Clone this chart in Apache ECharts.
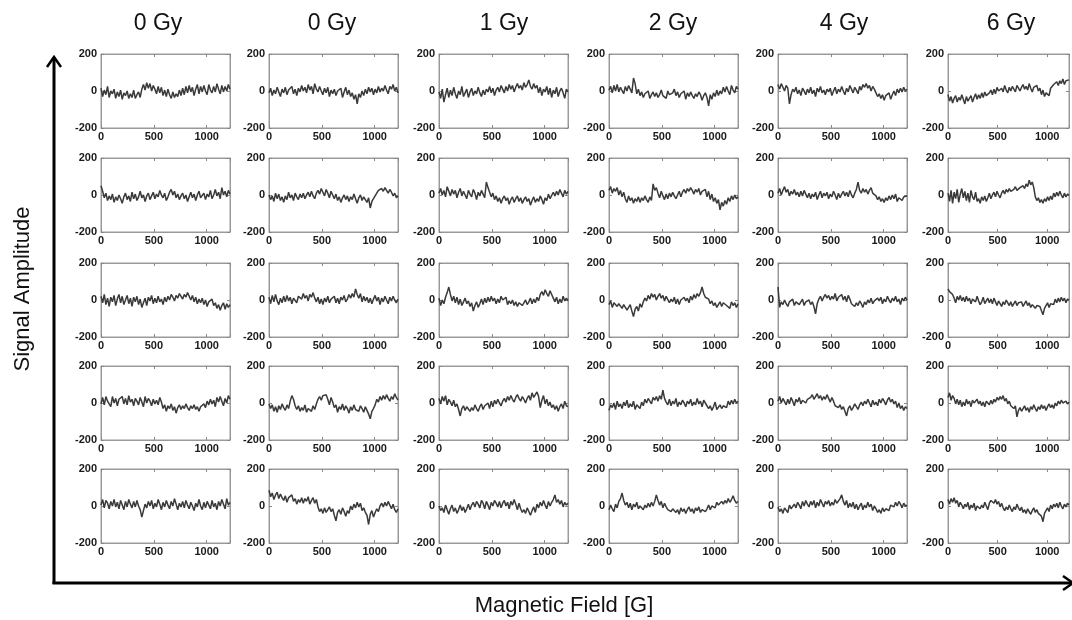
<!DOCTYPE html>
<html>
<head>
<meta charset="utf-8">
<script src="https://cdn.jsdelivr.net/npm/echarts@6/dist/echarts.min.js"></script>
<style>html,body{margin:0;padding:0;background:#fff}#chart{width:1072px;height:620px}</style>
</head>
<body>
<div id="chart"></div>
<script>
// Column titles (dose) and tick labels
const columnTitles = ['0 Gy', '0 Gy', '1 Gy', '2 Gy', '4 Gy', '6 Gy'];
const xTickLabels = [0, 500, 1000];
const yTickLabels = [-200, 0, 200];
const fieldMax = 1220;   // magnetic field range [G]
const ampMin = -200, ampMax = 200;
const yAxisTitle = 'Signal Amplitude';
const xAxisTitle = 'Magnetic Field [G]';

// Signal amplitudes (80 evenly spaced samples over 0..1220 G)
// Row 1
const r1c1 = [15,-30,5,-20,25,-35,0,-15,10,-40, -5,-30,5,-45,-10,-25,0,-40,-15,-35, 5,-40,-20,-5,-35,10,35,5,45,15, 40,0,30,10,-15,25,-10,20,-25,5, -30,10,-20,-40,-5,-35,-15,-30,5,-25, 15,-20,25,-10,30,-5,20,-25,10,35, -15,25,-5,30,0,-20,35,5,-10,25, -5,40,10,-15,30,-5,25,0,35,10];
const r1c2 = [-10,15,-25,5,-15,20,-5,-30,10,-10, 20,-20,5,-5,25,-15,10,-25,15,-5, 30,0,20,-10,35,5,25,-15,40,10, -5,25,0,-20,15,-10,20,-30,5,-15, 10,-25,0,-10,15,-35,-5,20,-20,5, -30,-10,-45,-20,-70,-15,-35,0,-25,10, -15,20,-5,15,-20,10,-10,25,-5,15, 0,30,5,-15,25,10,35,0,20,-10];
const r1c3 = [-5,-40,10,-60,-20,15,-35,5,-25,20, -15,-40,0,-20,25,-30,-10,10,-35,-5, 15,-25,0,-15,20,-10,-30,5,-20,10, -5,25,-10,15,-25,5,20,-5,30,10, -10,25,0,35,10,30,-5,20,40,15, 30,5,45,20,35,60,25,10,40,15, 30,-10,20,-25,10,-5,25,-20,15,-35, 5,-15,20,-30,0,15,-10,-40,10,-5];
const r1c4 = [5,25,-10,30,0,35,-5,20,10,-15, 25,0,30,10,-10,70,40,-15,10,-25, -5,-35,-15,-25,0,-40,-20,-5,-30,-10, -35,-20,5,-25,-15,-40,0,-20,-30,-10, 10,-25,-5,-35,-15,-20,0,-45,-10,-30, -5,-25,-40,-15,-30,-5,-20,-50,-25,-10, -35,-80,-20,-45,-10,-30,5,-25,0,-15, 20,-5,25,0,-20,30,5,-10,25,10];
const r1c5 = [35,10,40,20,0,30,15,-70,-20,10, -5,20,-15,5,-25,15,0,-20,10,-10, 20,-15,5,-30,15,-5,25,-10,5,-20, 10,-5,15,-25,0,20,-15,10,-5,25, 0,-20,15,-5,30,10,-10,20,5,-15, 25,5,35,20,40,15,30,0,25,10, -10,-30,-15,-40,-20,-50,-25,-35,-10,-45, -20,0,-25,10,-10,15,-5,20,0,10];
const r1c6 = [-20,-55,-30,-65,-40,-25,-60,-35,-50,-20, -45,-70,-30,-55,-40,-25,-60,-35,-15,-45, -20,-40,-10,-35,-5,-25,-30,-10,5,-20, 10,-15,20,0,-10,15,-5,30,5,-10, 20,0,25,10,-5,30,15,0,20,35, 10,25,5,40,15,-5,20,10,30,0, 15,-20,5,-30,-10,0,-25,15,20,35, 25,50,30,55,40,65,35,55,45,60];
// Row 2
const r2c1 = [50,20,-15,10,-30,-5,-25,5,-40,-10, -30,0,-20,-45,-10,10,-25,-5,-35,15, -20,5,-30,-10,20,-15,0,-35,-5,10, -25,-5,15,-20,5,-10,25,0,-15,10, -30,-10,15,30,0,20,-15,5,-25,-5, 10,-20,0,-35,-10,15,-15,5,-30,0, 20,-15,-5,10,-25,5,-10,25,-20,0, 30,-5,15,-20,40,0,20,-10,25,5];
const r2c2 = [0,-25,-5,-35,10,-20,5,-30,-10,-40, -5,-25,15,-15,0,-30,10,-10,-25,5, -15,10,-20,0,15,-10,20,-5,-20,10, 25,5,35,15,-5,30,10,-15,20,0, -20,5,-30,-10,-40,-15,0,-25,-5,-35, -10,-25,5,-20,-45,-15,0,-30,-10,-25, -40,-15,-70,-35,-20,-5,10,25,15,35, 20,40,25,10,30,15,-5,10,-15,-5];
const r2c3 = [10,35,0,25,-10,45,20,-5,30,5, 25,-15,15,35,-5,20,0,-20,25,5, -10,30,10,-25,15,-5,25,5,-15,70, 40,15,-10,10,-25,-5,-35,-15,-45,-20, -5,-30,-15,-50,-25,-10,-40,-20,-5,-35, -15,-45,-25,-10,-35,-20,-55,-30,-10,-40, -20,-35,-5,-25,-50,-15,-30,5,-20,-10, 15,-5,20,0,30,10,-10,25,5,20];
const r2c4 = [25,45,10,35,20,40,0,25,-10,15, -20,-40,-5,-30,-15,-45,-20,-35,-10,-40, -15,-30,-5,-25,-40,-10,-30,60,25,40, 10,-15,20,-5,-25,5,-20,10,-10,15, -5,-20,0,20,-10,15,30,10,35,20, 40,25,5,30,15,35,0,20,10,30, -10,20,-25,5,-35,-15,-45,-25,-80,-40, -60,-30,-50,-15,-35,-5,-25,0,-20,-10];
const r2c5 = [10,35,0,25,45,15,30,-5,20,5, 30,0,15,-10,20,-5,25,5,-15,10, -20,5,-10,15,-25,0,20,-15,10,-5, 15,-20,5,-10,20,0,-25,10,-15,5, 20,-5,15,-10,25,0,-15,10,30,70, 25,10,35,15,30,5,25,40,10,20, -5,-25,-10,-35,-20,-40,-15,-30,-5,-25, 0,-20,5,-35,-15,-5,-30,-10,-20,-5];
const r2c6 = [10,-35,25,-45,15,-20,30,-40,5,35, -15,20,-30,10,-40,25,-10,-25,15,-35, -20,-45,-10,-30,-5,-35,-15,10,-20,0, 15,-10,20,0,-15,10,25,5,30,15, 35,20,10,30,45,25,15,40,30,50, 35,60,45,80,55,70,40,-10,-30,-15, -40,-25,-45,-20,-35,-10,-30,-5,-25,10, -10,15,-5,20,0,-15,10,-10,5,0];
// Row 3
const r3c1 = [20,-15,30,-25,10,-35,15,-10,25,-30, 5,30,-15,20,-25,0,25,-20,10,-35, 15,-10,20,-25,5,-40,-15,10,-30,15, -5,25,-20,10,-15,20,-10,5,-25,15, -10,20,0,30,15,-5,25,10,35,20, 5,30,15,40,20,0,25,-10,15,-20, 5,-15,10,-25,0,-35,-10,-20,5,-30, -15,-45,-25,-55,-30,-15,-50,-20,-40,-25];
const r3c2 = [15,-20,25,-10,30,-5,-25,10,-15,20, -10,25,-5,15,-20,10,0,-15,20,30, 5,35,10,25,-5,30,15,40,10,-10, 15,-20,5,-25,10,-10,20,-15,5,-5, 20,-15,10,-20,15,0,25,-10,5,30, 10,35,15,60,30,10,35,-10,20,-5, 15,-15,10,-20,5,25,-5,15,-25,10, -10,20,0,-20,15,-5,20,0,-15,5];
const r3c3 = [10,-30,0,-20,15,40,70,30,-5,20, -15,15,-25,5,-30,-10,10,-20,-5,-35, -15,-60,-30,-10,-40,-20,5,-25,10,-15, 15,-10,20,-5,10,-20,5,-15,20,0, -10,15,-25,-5,-20,0,-30,-10,-35,-15, -5,-30,-15,0,-25,-10,10,-20,5,-15, 15,-5,30,45,25,55,35,20,50,30, 10,-10,15,-20,5,-15,20,-5,10,-5];
const r3c4 = [-25,-5,-40,-15,-5,-35,-20,-10,-45,-25, -15,-55,-40,-25,-60,-90,-50,-35,-60,-20, -40,-10,10,-5,25,5,35,15,30,0, 20,35,10,25,-5,20,10,-15,5,-10, 15,-20,5,-25,0,-10,15,-5,10,-15, 20,0,30,10,35,20,40,70,35,15, 25,5,-20,-5,-30,-15,-40,-25,-10,-35, -15,-5,-30,-20,-45,-10,-30,-15,-40,-20];
const r3c5 = [70,-40,-10,-25,0,-20,-35,-10,-15,5, -30,-10,-5,-25,-15,5,-30,-10,-20,0, -25,-10,-35,-75,-20,5,20,-5,15,30, 10,25,0,20,5,35,-5,15,10,30, 0,20,-10,25,5,-20,-10,-35,-15,-30, -5,-20,-40,-10,-25,0,-15,10,-20,-5, -15,10,-5,15,-20,5,-10,20,0,-15, 10,-5,20,-10,5,-25,10,-5,15,0];
const r3c6 = [60,45,55,30,10,-15,20,0,25,-5, 15,-10,20,-5,10,-20,5,15,-10,20, -5,-25,-10,15,-20,-5,10,-15,5,-20, 10,-10,-30,-5,-20,-35,-10,-25,0,-15, -30,-10,-35,-20,-5,-30,-15,-25,-10,-35, -20,-5,-30,-15,-40,-25,-15,-45,-30,-20, -35,-25,-80,-45,-30,-15,-40,-20,-10,-25, 5,-15,10,-10,15,-5,10,-15,5,0];
// Row 4
const r4c1 = [-5,30,-10,35,10,20,-20,35,0,25, -15,20,10,35,-5,25,-10,40,5,20, -15,25,10,-10,30,5,-20,35,0,25, 10,-15,20,-5,15,-10,30,5,-30,-10, -45,-15,-30,-5,-40,-20,-55,-25,-10,-35, -15,-30,-5,-25,-40,-15,-30,-10,-35,-20, -45,-20,-30,-5,-25,10,-10,20,-5,15, -20,30,5,35,10,-15,25,0,40,20];
const r4c2 = [-5,-30,-10,-45,-20,-50,-15,-35,-5,-25, -40,-10,-30,10,40,20,-15,-35,-15,-45, -25,-40,-10,-50,-30,-20,-45,-15,-35,-5, 20,35,15,40,30,45,20,-10,30,5, -25,-10,-50,-20,-35,-5,-40,-15,-30,-55, -20,-40,-10,-35,-25,-45,-15,-30,-50,-20, -40,-60,-85,-45,-30,-10,20,5,35,15, 40,20,45,25,10,35,20,50,30,15];
const r4c3 = [25,-5,35,10,40,-10,20,5,-15,15, -20,-5,-35,-70,-30,-15,-40,-20,-10,-45, -25,-40,-10,-30,-45,-20,-5,-35,-15,-25, 0,-30,10,-20,15,-5,20,0,-15,10, 25,5,35,15,40,20,5,30,45,25, 10,35,20,0,25,40,15,55,30,45, 60,35,-25,15,40,-5,20,-15,5,-25, -10,-35,-15,-45,-20,-5,-30,10,-15,-20];
const r4c4 = [-40,-10,-25,0,-35,10,-20,-5,-30,5, -15,15,-25,-5,-20,10,-35,-10,-5,-30, 5,-15,20,0,25,10,-5,30,15,35, 10,40,20,70,25,5,-10,20,-15,10, -5,25,-20,5,-10,15,0,-20,10,-5, 20,-15,5,-10,25,-5,10,-20,15,0, -10,-30,-15,-40,-20,5,-35,-25,-10,-30, -15,-5,-25,10,-10,15,-5,20,0,10];
const r4c5 = [10,35,0,25,15,-10,20,-5,30,10, -15,20,5,30,-5,15,25,0,20,10, 30,45,20,35,50,25,40,15,35,20, 45,25,5,30,10,-15,-5,-25,-10,-35, -20,-45,-70,-30,-15,-40,-25,-5,-20,-35, -10,5,-15,10,-5,20,0,-20,15,-10, 5,-15,20,0,25,10,-10,15,30,5, 20,-5,10,-25,0,-30,-15,-40,-20,-30];
const r4c6 = [30,55,15,40,25,-5,20,-10,15,-20, 5,-15,20,-5,10,-20,15,0,-10,20, -5,10,-15,5,-20,10,0,-10,15,-5, 20,5,30,15,35,20,40,10,25,-5, 10,-15,-5,-30,-15,-75,-40,-25,-45,-30, -15,-40,-25,-50,-20,-35,-10,-30,-45,-20, -35,-10,-30,-15,-40,-20,-5,-25,-10,-30, 0,-15,10,-5,15,0,-10,10,-5,5];
// Row 5
const r5c1 = [5,35,-10,30,15,-15,25,0,35,-5, 20,-15,30,5,-20,25,-5,35,10,-10, 25,-5,30,0,-20,-60,-25,10,-10,25, 0,30,-15,15,-5,35,10,-20,20,-5, 30,5,-15,25,0,40,10,-20,15,-5, 25,-10,30,5,-15,20,0,-25,15,-5, 35,0,-20,20,-10,25,5,-15,30,-5, 15,-20,25,0,35,10,-15,40,5,20];
const r5c2 = [85,50,70,35,60,75,40,65,45,30, 55,20,45,35,60,25,40,10,35,20, 45,15,40,25,50,10,30,45,15,35, -5,-30,-15,-40,-10,-35,-20,-5,-30,-15, -50,-80,-35,-20,-45,-10,-30,-55,-25,-40, 0,-20,10,-10,20,-5,15,-25,-10,-35, -50,-100,-45,-25,-60,-35,-15,-30,0,15, -5,20,0,25,5,-15,10,-20,-35,-15];
const r5c3 = [0,-25,-10,-35,5,-20,-45,-15,5,-30, -10,-40,-20,5,-25,-5,-35,-15,10,-20, 5,20,-5,25,10,-10,30,15,-15,25, 5,-20,20,0,30,15,-5,25,-10,15, 30,0,20,-15,25,5,35,10,-20,15, -15,-35,-20,-40,-10,-30,-50,-25,-5,-35, 10,-10,20,0,30,5,-15,25,0,20, 35,60,20,35,10,30,-5,20,5,15];
const r5c4 = [-20,5,-15,-30,10,-10,25,40,70,30, 5,20,-10,15,-20,10,-5,20,-15,0, 10,-20,5,-10,15,-5,20,0,25,60, 30,5,25,-10,15,-5,-20,-10,-30,-15, -5,-35,-20,-45,-10,-30,-15,-40,-20,-5, -30,-15,-40,-10,-25,-5,-35,-20,-10,-30, -15,5,-20,0,10,-10,20,5,-5,25, 10,30,15,40,20,35,55,30,15,25];
const r5c5 = [-5,-30,-15,-40,-10,-20,-35,5,-15,-25, 10,-10,20,5,-15,25,0,30,10,-5, 25,5,30,-10,20,0,35,15,-5,25, 10,30,0,20,5,35,15,25,40,60, 25,5,30,-10,15,-5,20,-15,10,-20, 0,15,-20,5,-10,20,-5,10,-25,0, -15,-35,-20,-40,-10,-30,-15,-5,-25,5, 15,-5,20,0,25,10,-10,15,0,5];
const r5c6 = [35,10,40,20,45,15,30,-5,20,5, -15,10,-5,20,-20,5,-10,15,-25,0, 10,-15,5,-10,20,0,-20,15,30,40, 15,35,10,25,-5,15,-10,-25,-5,-20, 5,-15,-30,-5,-20,10,-10,-25,-5,-35, -20,-40,-15,-30,-45,-25,-10,-35,-20,-40, -30,-55,-85,-40,-25,-10,-30,5,-15,10, -5,15,-10,20,0,-15,10,-5,15,5];

const panelRows = [
  [r1c1, r1c2, r1c3, r1c4, r1c5, r1c6],
  [r2c1, r2c2, r2c3, r2c4, r2c5, r2c6],
  [r3c1, r3c2, r3c3, r3c4, r3c5, r3c6],
  [r4c1, r4c2, r4c3, r4c4, r4c5, r4c6],
  [r5c1, r5c2, r5c3, r5c4, r5c5, r5c6]
];

// Layout (pixels)
const colLeft = [101, 269, 439, 609, 778, 948];
const rowTop = [54, 158, 263, 366, 469];
const plotW = 129, plotH = 74;
const FONT = "'Liberation Sans', Arial, Helvetica, sans-serif";
const frameColor = '#9a9a9a';

const grids = [], xAxes = [], yAxes = [], series = [];
let idx = 0;
for (let r = 0; r < panelRows.length; r++) {
  for (let c = 0; c < panelRows[r].length; c++) {
    const vals = panelRows[r][c];
    grids.push({ left: colLeft[c], top: rowTop[r], width: plotW, height: plotH,
      show: true, borderColor: frameColor, borderWidth: 1, backgroundColor: '#fff' });
    const tickStyle = { inside: true, length: 3, lineStyle: { color: '#888', width: 1 } };
    const labelStyle = { color: '#1a1a1a', fontSize: 11, fontWeight: 'bold', fontFamily: FONT };
    xAxes.push({ gridIndex: idx, type: 'value', position: 'bottom', min: 0, max: fieldMax, interval: 500,
      axisLine: { show: true, onZero: false, lineStyle: { color: frameColor } }, axisTick: tickStyle,
      splitLine: { show: false },
      axisLabel: Object.assign({ margin: 3, formatter: v => xTickLabels.includes(v) ? String(v) : '' }, labelStyle) });
    xAxes.push({ gridIndex: idx, type: 'value', position: 'top', min: 0, max: fieldMax, interval: 500,
      axisLine: { show: true, onZero: false, lineStyle: { color: frameColor } }, axisTick: tickStyle,
      splitLine: { show: false }, axisLabel: { show: false } });
    yAxes.push({ gridIndex: idx, type: 'value', position: 'left', min: ampMin, max: ampMax, interval: 200,
      axisLine: { show: true, onZero: false, lineStyle: { color: frameColor } }, axisTick: tickStyle,
      splitLine: { show: false },
      axisLabel: Object.assign({ margin: 4, formatter: v => yTickLabels.includes(v) ? String(v) : '' }, labelStyle) });
    yAxes.push({ gridIndex: idx, type: 'value', position: 'right', min: ampMin, max: ampMax, interval: 200,
      axisLine: { show: true, onZero: false, lineStyle: { color: frameColor } }, axisTick: tickStyle,
      splitLine: { show: false }, axisLabel: { show: false } });
    const step = fieldMax / (vals.length - 1);
    series.push({ type: 'line', xAxisIndex: 2 * idx, yAxisIndex: 2 * idx,
      data: vals.map((v, i) => [i * step, v]),
      showSymbol: false, symbol: 'none', silent: true, clip: true,
      lineStyle: { color: '#3a3a3a', width: 1.5 } });
    idx++;
  }
}

const graphics = [];
// Column titles
const titleX = [158, 332, 504, 673, 844, 1011];
columnTitles.forEach((t, c) => {
  graphics.push({ type: 'text', x: titleX[c], y: 24,
    style: { text: t, fill: '#111', font: '23px ' + FONT, align: 'center', verticalAlign: 'middle' } });
});
// Outer axis arrows
graphics.push({ type: 'line', shape: { x1: 54, y1: 584, x2: 54, y2: 57 }, style: { stroke: '#000', lineWidth: 3 } });
graphics.push({ type: 'polyline', shape: { points: [[47, 67], [54, 57], [61, 67]] }, style: { stroke: '#000', lineWidth: 2.5, fill: null } });
graphics.push({ type: 'line', shape: { x1: 52.5, y1: 583, x2: 1072, y2: 583 }, style: { stroke: '#000', lineWidth: 3 } });
graphics.push({ type: 'polyline', shape: { points: [[1063, 576], [1073, 583], [1063, 590]] }, style: { stroke: '#000', lineWidth: 2.5, fill: null } });
// Outer axis titles
graphics.push({ type: 'text', x: 23, y: 289, rotation: Math.PI / 2,
  style: { text: yAxisTitle, fill: '#111', font: '22px ' + FONT, align: 'center', verticalAlign: 'middle' } });
graphics.push({ type: 'text', x: 564, y: 606,
  style: { text: xAxisTitle, fill: '#111', font: '22px ' + FONT, align: 'center', verticalAlign: 'middle' } });

const chart = echarts.init(document.getElementById('chart'), null, { renderer: 'canvas' });
chart.setOption({
  animation: false,
  backgroundColor: '#fff',
  grid: grids,
  xAxis: xAxes,
  yAxis: yAxes,
  series: series,
  graphic: graphics
});
</script>
</body>
</html>
